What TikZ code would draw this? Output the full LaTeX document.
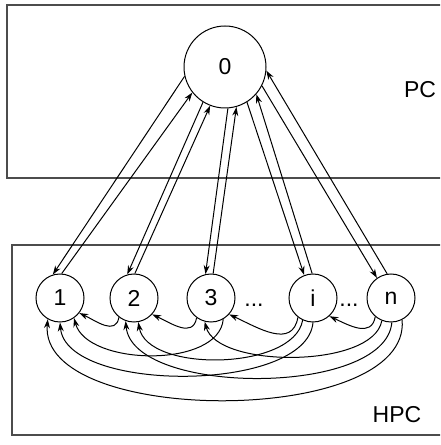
\documentclass[tikz,border=0pt]{standalone}
\usepackage{fontspec}
\setmainfont{Liberation Sans}
\usetikzlibrary{arrows.meta}

\begin{document}
\begin{tikzpicture}[x=1pt,y=1pt,>={Stealth[length=9pt,width=6pt]},
    font=\fontsize{23}{27}\selectfont,
    proc/.style={circle,draw,line width=1pt,minimum size=48pt,inner sep=0pt},
    link/.style={->,line width=1pt},
    frame/.style={line width=1.4pt,draw=black!70}]

      \useasboundingbox (0,0) rectangle (440,445);
      \clip (0,0) rectangle (440,445);

      % the two machines
      \draw[frame] (7,440) rectangle (460,267);
      \draw[frame] (12,200) rectangle (460,10);
      \node (pc) at (420,355) {PC};
      \node (hpc) at (397,30) {HPC};

      \node[proc,minimum size=82pt] (n0) at (225,378) {0};

    \def\rowY{147}
      \node[proc] (n1) at (60,\rowY) {1};
      \node[proc] (n2) at (134,\rowY) {2};
      \node[proc] (n3) at (211,\rowY) {3};
      \node[proc] (ni) at (313,\rowY) {i};
      \node[proc] (nn) at (391,\rowY) {n};
      \node[anchor=base] (dots1) at (254,138) {...};
      \node[anchor=base] (dots2) at (349,138) {...};

      % master <-> workers
      \draw[link] (n0.193) -- (n1.107);
      \draw[link] (n1.86) -- (n0.218);
      \draw[link] (n0.238) -- (n2.106);
      \draw[link] (n2.88) -- (n0.249);
      \draw[link] (n0.274) -- (n3.103);
      \draw[link] (n3.85) -- (n0.286);
      \draw[link] (n0.302) -- (ni.111);
      \draw[link] (ni.92) -- (n0.319);
      \draw[link] (n0.333) -- (nn.125);
      \draw[link] (nn.99) -- (n0.355);

      % neighbours
      \draw[link] (n2.232) to[out=-100,in=-25,looseness=1.2] (n1.322);
      \draw[link] (n3.234) to[out=-100,in=-25,looseness=1.2] (n2.318);
      \draw[link] (ni.232) to[out=-100,in=-25,looseness=1.2] (n3.318);
      \draw[link] (nn.230) to[out=-100,in=-25,looseness=1.2] (ni.312);

      % longer hops
      \draw[link] (n3.300) to[out=-95,in=-75,looseness=0.85] (n1.305);
      \draw[link] (ni.245) to[out=-100,in=-80,looseness=0.8] (n2.280);
      \draw[link] (ni.270) to[out=-95,in=-85,looseness=0.72] (n1.270);
      \draw[link] (nn.248) to[out=-100,in=-75,looseness=0.7] (n3.255);
      \draw[link] (nn.272) to[out=-95,in=-85,looseness=0.72] (n2.250);
      \draw[link] (nn.297) to[out=-85,in=-95,looseness=0.78] (n1.240);

\end{tikzpicture}
\end{document}
